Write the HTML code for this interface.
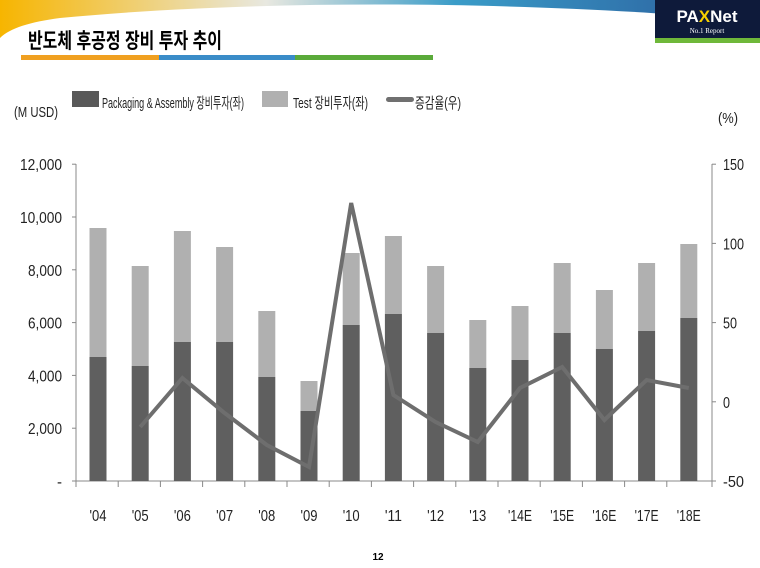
<!DOCTYPE html>
<html><head><meta charset="utf-8"><style>
body{margin:0;width:760px;height:568px;background:#fff;overflow:hidden;font-family:"Liberation Sans","Noto Sans CJK KR",sans-serif}
</style></head><body>
<svg width="760" height="568" xmlns="http://www.w3.org/2000/svg" style="position:absolute;left:0;top:0">
<defs>
<linearGradient id="g" x1="0" x2="1" y1="0" y2="0"><stop offset="0" stop-color="#f7b500"/><stop offset="0.35" stop-color="#e8e8e0"/><stop offset="0.6" stop-color="#3a9cc8"/><stop offset="1" stop-color="#2a5a9a"/></linearGradient>
</defs>
<path d="M0 0 H760 V22 C600 5 300 -5 60 18 C30 22 10 28 0 38 Z" fill="url(#g)"/>
<rect x="655" y="0" width="105" height="40" fill="#0e1a3a"/>
<rect x="655" y="38" width="105" height="5" fill="#6fb83a"/>
<text x="707" y="22" font-size="17" font-weight="bold" fill="#fff" text-anchor="middle" font-family="Liberation Sans">PA<tspan fill="#f7d000">X</tspan>Net</text>
<text x="707" y="33" font-size="7" fill="#fff" text-anchor="middle" font-family="Liberation Serif">No.1 Report</text>
<text x="28" y="48" font-size="21" font-weight="bold" fill="#000" textLength="194" lengthAdjust="spacingAndGlyphs">반도체 후공정 장비 투자 추이</text>
<rect x="21" y="55" width="138" height="5" fill="#f0a020"/>
<rect x="159" y="55" width="136" height="5" fill="#3a8cc8"/>
<rect x="295" y="55" width="138" height="5" fill="#5aaa3a"/>
<g font-size="15" fill="#222">
<text x="14" y="117" textLength="44" lengthAdjust="spacingAndGlyphs">(M USD)</text>
<text x="718" y="123" textLength="20" lengthAdjust="spacingAndGlyphs">(%)</text>
<rect x="72" y="91" width="27" height="16" fill="#595959"/>
<text x="102" y="108" textLength="142" lengthAdjust="spacingAndGlyphs">Packaging &amp; Assembly 장비투자(좌)</text>
<rect x="262" y="91" width="26" height="16" fill="#b0b0b0"/>
<text x="293" y="108" textLength="75" lengthAdjust="spacingAndGlyphs">Test 장비투자(좌)</text>
<rect x="386" y="97" width="28" height="5" rx="2.5" fill="#707070"/>
<text x="415" y="108" textLength="46" lengthAdjust="spacingAndGlyphs">증감율(우)</text>
</g>
<g stroke="#888" stroke-width="1">
<line x1="76" y1="164" x2="76" y2="482"/>
<line x1="712" y1="164" x2="712" y2="482"/>
<line x1="72" y1="481" x2="716" y2="481"/>
</g>
<g id="bars"></g>
<g id="ax"></g>
<text x="378" y="560" font-size="10" font-weight="bold" text-anchor="middle">12</text>
</svg>
<script>
var S="http://www.w3.org/2000/svg";
var tot=[228,266,231,247,311,381,253,236,266,320,306,263,290,263,244];
var dk=[357,366,342,342,377,411,325,314,333,368,360,333,349,331,318];
var ln=[null,427,378,413,445,467,203,395,422,442,388,367,420,380,388];
var lab=["'04","'05","'06","'07","'08","'09","'10","'11","'12","'13","'14E","'15E","'16E","'17E","'18E"];
var b=document.getElementById("bars"),a=document.getElementById("ax");
function el(t,o,p){var e=document.createElementNS(S,t);for(var k in o)e.setAttribute(k,o[k]);p.appendChild(e);return e;}
var pts=[];
for(var i=0;i<15;i++){var c=98+i*42.2;
el("rect",{x:c-8.5,y:tot[i],width:17,height:dk[i]-tot[i],fill:"#b0b0b0"},b);
el("rect",{x:c-8.5,y:dk[i],width:17,height:481-dk[i],fill:"#5f5f5f"},b);
var w=lab[i].length>3?24:17;
var t=el("text",{x:c-w/2,y:521,"font-size":16,fill:"#222",textLength:w,lengthAdjust:"spacingAndGlyphs"},a);t.textContent=lab[i];
if(ln[i])pts.push(c+","+ln[i]);
el("line",{x1:76+i*42.2,y1:481,x2:76+i*42.2,y2:487,stroke:"#888"},a);}
el("line",{x1:712,y1:481,x2:712,y2:487,stroke:"#888"},a);
el("polyline",{points:pts.join(" "),fill:"none",stroke:"#6e6e6e","stroke-width":4,"stroke-linejoin":"miter"},b);
var ly=["-","2,000","4,000","6,000","8,000","10,000","12,000"];
for(var j=0;j<7;j++){var y=481-j*52.8;el("line",{x1:72,y1:y,x2:76,y2:y,stroke:"#888"},a);
var w=ly[j].length==1?5:(ly[j].length==5?34:42);
var t=el("text",{x:62-w,y:y+6,"font-size":16,fill:"#222",textLength:w,lengthAdjust:"spacingAndGlyphs"},a);t.textContent=ly[j];}
var ry=["-50","0","50","100","150"];
for(var j=0;j<5;j++){var y=481-j*79.2;el("line",{x1:712,y1:y,x2:716,y2:y,stroke:"#888"},a);
var w=ry[j].length*7;
var t=el("text",{x:723,y:y+6,"font-size":16,fill:"#222",textLength:w,lengthAdjust:"spacingAndGlyphs"},a);t.textContent=ry[j];}
</script>
</body></html>
